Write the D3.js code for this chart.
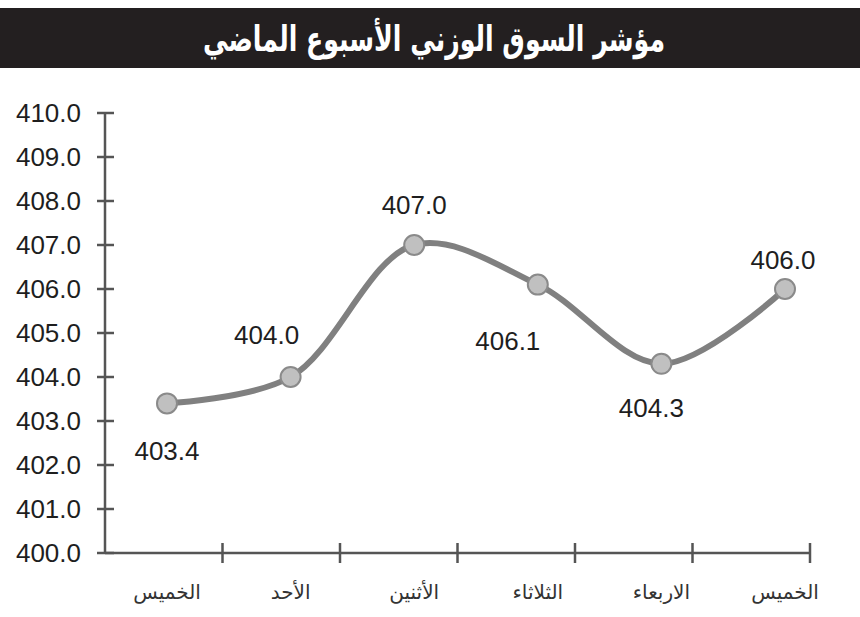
<!DOCTYPE html>
<html>
<head>
<meta charset="utf-8">
<script src="https://cdn.jsdelivr.net/npm/d3@7"></script>
<style>
  body { margin: 0; background: #fff; }
  svg { display: block; }
</style>
</head>
<body>
<svg id="chart" width="860" height="617"></svg>
<script>
// values
const days = ["الخميس", "الأحد", "الأثنين", "الثلاثاء", "الاربعاء", "الخميس "];
const values = [403.4, 404.0, 407.0, 406.1, 404.3, 406.0];
const yTicks = [400, 401, 402, 403, 404, 405, 406, 407, 408, 409, 410];
const title = "مؤشر السوق الوزني الأسبوع الماضي";

const svg = d3.select("#chart");

// title bar
svg.append("rect")
    .attr("x", 0).attr("y", 8)
    .attr("width", 860).attr("height", 60)
    .attr("fill", "#231f20");

// condensed heavy title, squeezed horizontally
svg.append("text")
    .attr("transform", "translate(434,51) scale(0.72,1)")
    .attr("text-anchor", "middle")
    .attr("direction", "rtl")
    .style("font-family", "'DejaVu Sans', sans-serif")
    .style("font-weight", "bold")
    .style("font-size", "35px")
    .attr("fill", "#fff")
    .text(title);

const y = d3.scaleLinear().domain([400, 410]).range([553, 113]);
// band scale gives the category tick marks, point scale places the markers
const xBand = d3.scaleBand().domain(d3.range(days.length)).range([105, 810]);
const x = d3.scalePoint().domain(d3.range(days.length)).range([167, 785]);

const axisColor = "#555";
const g = svg.append("g");

// y axis
g.append("line")
    .attr("x1", 105).attr("x2", 105)
    .attr("y1", y(410)).attr("y2", y(400))
    .attr("stroke", axisColor).attr("stroke-width", 2.5);

g.selectAll(".ytick").data(yTicks).join("line")
    .attr("class", "ytick")
    .attr("x1", 97).attr("x2", 114)
    .attr("y1", d => y(d)).attr("y2", d => y(d))
    .attr("stroke", axisColor).attr("stroke-width", 2.5);

g.selectAll(".ylab").data(yTicks).join("text")
    .attr("class", "ylab")
    .attr("x", 81).attr("y", d => y(d))
    .attr("dy", "0.36em")
    .attr("text-anchor", "end")
    .style("font-family", "'Liberation Sans', Arial, sans-serif")
    .style("font-size", "26px")
    .attr("fill", "#1e1e1e")
    .text(d => d.toFixed(1));

// x axis
g.append("line")
    .attr("x1", 105).attr("x2", 810)
    .attr("y1", y(400)).attr("y2", y(400))
    .attr("stroke", axisColor).attr("stroke-width", 2.5);

const xTickPos = d3.range(days.length).map(i => xBand(i) + xBand.bandwidth());
g.selectAll(".xtick").data(xTickPos).join("line")
    .attr("class", "xtick")
    .attr("x1", d => d).attr("x2", d => d)
    .attr("y1", y(400) - 10).attr("y2", y(400) + 10)
    .attr("stroke", axisColor).attr("stroke-width", 2.5);

g.selectAll(".xlab").data(days).join("text")
    .attr("class", "xlab")
    .attr("x", (d, i) => x(i)).attr("y", 599)
    .attr("text-anchor", "middle")
    .attr("direction", "rtl")
    .style("font-family", "'DejaVu Sans', sans-serif")
    .style("font-size", "20px")
    .attr("fill", "#333")
    .text(d => d.trim());

// smoothed line
const line = d3.line()
    .x((d, i) => x(i))
    .y(d => y(d))
    .curve(d3.curveCatmullRom.alpha(0.5));

g.append("path")
    .datum(values)
    .attr("d", line)
    .attr("fill", "none")
    .attr("stroke", "#808080")
    .attr("stroke-width", 6)
    .attr("stroke-linecap", "round");

g.selectAll(".dot").data(values).join("circle")
    .attr("class", "dot")
    .attr("cx", (d, i) => x(i)).attr("cy", d => y(d))
    .attr("r", 10)
    .attr("fill", "#c0c0c0")
    .attr("stroke", "#8a8a8a")
    .attr("stroke-width", 2);

// value labels, offset from their marker
const labelOffset = [[0, 47], [-24, -42], [0, -40], [-30, 56], [-10, 44], [-2, -29]];
g.selectAll(".vlab").data(values).join("text")
    .attr("class", "vlab")
    .attr("x", (d, i) => x(i) + labelOffset[i][0])
    .attr("y", (d, i) => y(d) + labelOffset[i][1])
    .attr("dy", "0.36em")
    .attr("text-anchor", "middle")
    .style("font-family", "'Liberation Sans', Arial, sans-serif")
    .style("font-size", "26px")
    .attr("fill", "#1e1e1e")
    .text(d => d.toFixed(1));
</script>
</body>
</html>
